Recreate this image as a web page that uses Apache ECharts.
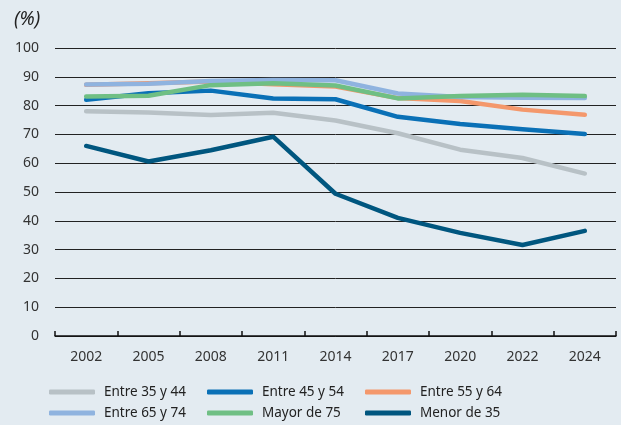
<!DOCTYPE html>
<html>
<head>
<meta charset="utf-8">
<script src="https://cdn.jsdelivr.net/npm/echarts@6/dist/echarts.min.js"></script>
<style>
html,body{margin:0;padding:0;background:#e3ebf1;}
#chart{width:621px;height:425px;}
</style>
</head>
<body>
<div id="chart"></div>
<script>
// Años de la encuesta
const years = ['2002','2005','2008','2011','2014','2017','2020','2022','2024'];

// Porcentaje por tramo de edad
const entre35y44 = [78.0, 77.6, 76.7, 77.5, 74.8, 70.4, 64.7, 61.8, 56.4];
const entre45y54 = [82.0, 84.3, 85.2, 82.5, 82.2, 76.1, 73.6, 71.8, 70.1];
const entre55y64 = [87.2, 87.8, 88.4, 87.4, 86.6, 82.6, 81.6, 78.6, 76.8];
const entre65y74 = [87.3, 87.6, 88.5, 88.9, 88.8, 84.2, 83.0, 82.7, 82.6];
const mayor75    = [83.2, 83.4, 87.1, 87.8, 87.0, 82.5, 83.3, 83.8, 83.3];
const menor35    = [66.0, 60.6, 64.5, 69.2, 49.4, 41.0, 35.8, 31.6, 36.5];

const seriesNames = ['Entre 35 y 44','Entre 45 y 54','Entre 55 y 64','Entre 65 y 74','Mayor de 75','Menor de 35'];
const seriesData = [entre35y44, entre45y54, entre55y64, entre65y74, mayor75, menor35];
const colors = ['#b8c1c6','#0a70b6','#f4986c','#8fb3df','#6fbf84','#00567f'];

const font = 'Noto Sans';
const chart = echarts.init(document.getElementById('chart'));

function legendCol(left, names) {
  return {
    orient: 'vertical',
    left: left,
    top: 380,
    itemGap: 7,
    itemWidth: 46,
    itemHeight: 5,
    icon: 'roundRect',
    data: names,
    textStyle: { fontFamily: font, fontSize: 13.5, color: '#222', padding: [0, 0, 0, 4] }
  };
}

chart.setOption({
  backgroundColor: '#e3ebf1',
  animation: false,
  color: colors,
  title: {
    text: '(%)',
    left: 9,
    top: 5,
    textStyle: { fontFamily: font, fontStyle: 'italic', fontWeight: 'normal', fontSize: 19, color: '#222' }
  },
  legend: [
    legendCol(44, ['Entre 35 y 44','Entre 65 y 74']),
    legendCol(202, ['Entre 45 y 54','Mayor de 75']),
    legendCol(360, ['Entre 55 y 64','Menor de 35'])
  ],
  grid: { left: 55, right: 5, top: 48, bottom: 89, containLabel: false },
  xAxis: {
    type: 'category',
    data: years,
    boundaryGap: true,
    axisLine: { lineStyle: { color: '#111', width: 1.5 } },
    axisTick: { show: true, inside: true, length: 5, lineStyle: { color: '#111', width: 1.5 } },
    axisLabel: { fontFamily: font, fontSize: 14, color: '#333', margin: 14 }
  },
  yAxis: {
    type: 'value',
    min: 0,
    max: 100,
    interval: 10,
    axisLine: { show: false },
    axisTick: { show: false },
    axisLabel: { fontFamily: font, fontSize: 14, color: '#333', margin: 16 },
    splitLine: { lineStyle: { color: '#222', width: 1 } }
  },
  series: seriesNames.map((name, i) => ({
    name: name,
    type: 'line',
    data: seriesData[i],
    symbol: 'none',
    lineStyle: { width: 4.5, cap: 'round', join: 'round' },
    itemStyle: { color: colors[i] }
  }))
});
</script>
</body>
</html>
